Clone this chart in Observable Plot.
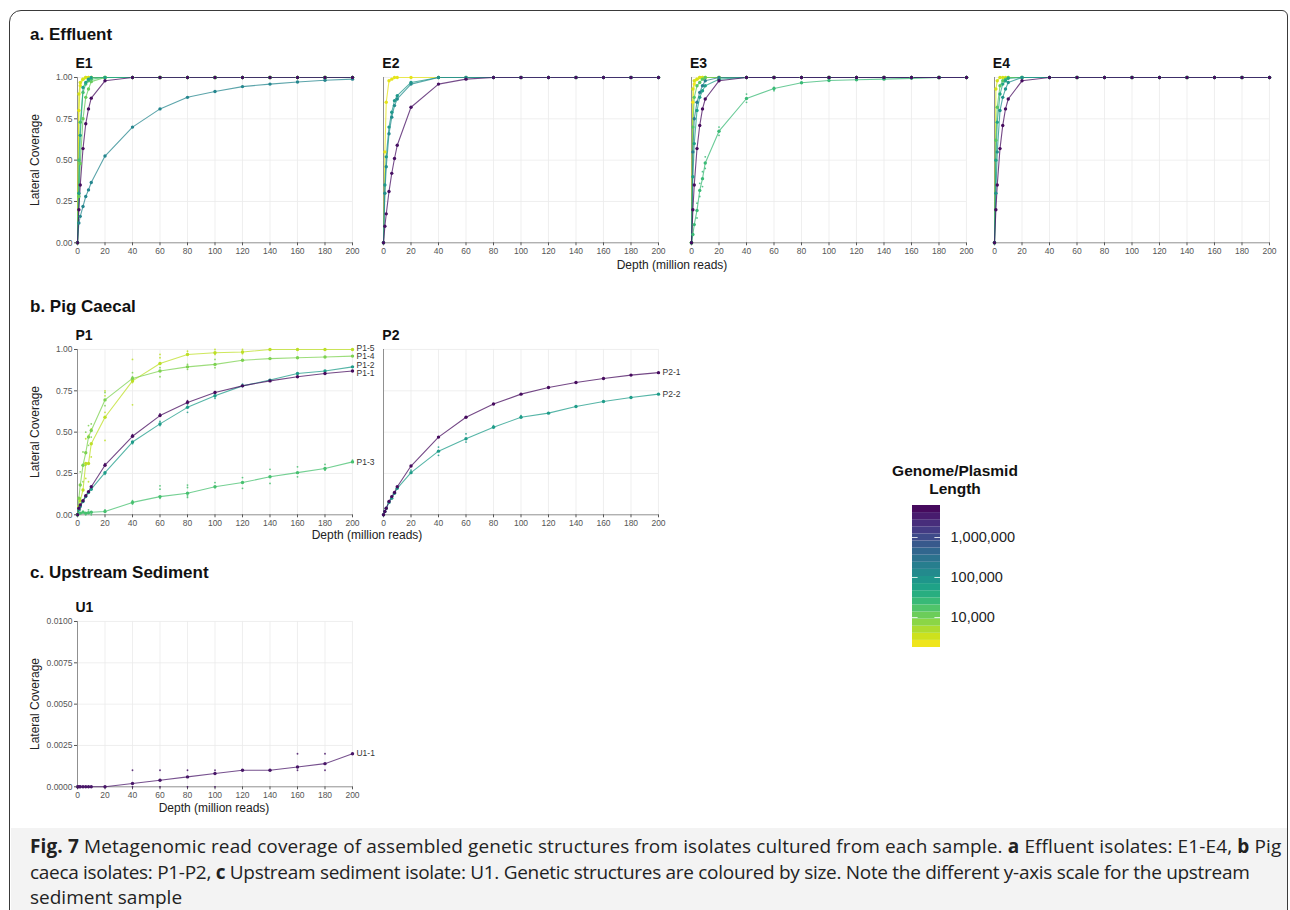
<!DOCTYPE html>
<html><head><meta charset="utf-8">
<script src="https://cdn.jsdelivr.net/npm/d3@7"></script>
<script src="https://cdn.jsdelivr.net/npm/@observablehq/plot@0.6"></script>
<style>
body{margin:0;width:1290px;height:910px;position:relative;overflow:hidden;background:#fff;font-family:"Liberation Sans",Arial,Helvetica,sans-serif;color:#111;}
.abs{position:absolute;}
.abs svg{max-width:none !important;}
.sec{font-weight:bold;font-size:17px;line-height:20px;white-space:nowrap;}
.ptitle{font-weight:bold;font-size:14px;line-height:16px;}
.axt{font-size:12px;line-height:14px;color:#222;white-space:nowrap;transform:translateX(-50%);}
.yt{font-size:12px;line-height:14px;color:#222;white-space:nowrap;transform:translate(-50%,-50%) rotate(-90deg);}
#frame{left:9px;top:10px;width:1277px;height:940px;border:1.5px solid #3a3a3a;border-radius:12px 6px 0 0;}
#capbg{left:10.5px;top:828px;width:1276px;height:90px;background:#f3f3f3;}
#cap{left:30px;top:834px;font-family:"Open Sans",sans-serif;font-size:19px;line-height:25.5px;color:#222;white-space:nowrap;}
#cap span{display:block;}
#legtitle{left:955px;top:462px;transform:translateX(-50%);text-align:center;font-weight:bold;font-size:15.5px;line-height:18px;white-space:nowrap;}
</style></head><body>
<div id="frame" class="abs"></div>
<div id="capbg" class="abs"></div>
<div id="cap" class="abs"><span style="letter-spacing:0.12px"><b>Fig. 7</b> Metagenomic read coverage of assembled genetic structures from isolates cultured from each sample. <b>a</b> Effluent isolates: E1-E4, <b>b</b> Pig</span><span style="letter-spacing:-0.3px">caeca isolates: P1-P2, <b>c</b> Upstream sediment isolate: U1. Genetic structures are coloured by size. Note the different y-axis scale for the upstream</span><span>sediment sample</span></div>
<div class="abs sec" style="left:30px;top:25px">a. Effluent</div>
<div class="abs sec" style="left:30px;top:297px">b. Pig Caecal</div>
<div class="abs sec" style="left:30px;top:563px">c. Upstream Sediment</div>
<div class="abs axt" style="left:672px;top:258px">Depth (million reads)</div>
<div class="abs axt" style="left:367px;top:528px">Depth (million reads)</div>
<div class="abs axt" style="left:214px;top:801px">Depth (million reads)</div>
<div class="abs yt" style="left:35px;top:160px">Lateral Coverage</div>
<div class="abs yt" style="left:35px;top:432px">Lateral Coverage</div>
<div class="abs yt" style="left:35px;top:704px">Lateral Coverage</div>
<div id="legtitle" class="abs">Genome/Plasmid<br>Length</div>
<script>
// ---------- data ----------
const depths = [0,1,2,4,6,8,10,20,40,60,80,100,120,140,160,180,200];
const xTicks = [0,20,40,60,80,100,120,140,160,180,200];
const yTicksAB = [0,0.25,0.5,0.75,1];
const yTicksC = [0,0.0025,0.005,0.0075,0.01];
const legendTicks = [10000,100000,1000000];

const E1_len = [5000000,150000,60000,20000,12000,3000,2500];
const E1_cov = [
 [0,0.20,0.35,0.57,0.72,0.81,0.875,0.98,1,1,1,1,1,1,1,1,1],
 [0,0.12,0.16,0.22,0.28,0.32,0.365,0.525,0.70,0.81,0.88,0.915,0.945,0.96,0.973,0.983,0.99],
 [0,0.30,0.65,0.94,0.97,0.99,1,1,1,1,1,1,1,1,1,1,1],
 [0,0.50,0.73,0.91,0.96,0.98,0.99,1,1,1,1,1,1,1,1,1,1],
 [0,0.28,0.48,0.75,0.88,0.93,0.975,1,1,1,1,1,1,1,1,1,1],
 [0,0.90,0.97,0.99,1,1,1,1,1,1,1,1,1,1,1,1,1],
 [0,0.80,0.95,0.99,1,1,1,1,1,1,1,1,1,1,1,1,1]
];
const E2_len = [4500000,80000,120000,2500];
const E2_cov = [
 [0,0.10,0.175,0.31,0.42,0.51,0.59,0.82,0.96,0.99,1,1,1,1,1,1,1],
 [0,0.35,0.52,0.70,0.79,0.86,0.89,0.97,1,1,1,1,1,1,1,1,1],
 [0,0.30,0.46,0.66,0.76,0.83,0.87,0.96,1,1,1,1,1,1,1,1,1],
 [0,0.55,0.85,0.98,0.99,1,1,1,1,1,1,1,1,1,1,1,1]
];
const E3_len = [5000000,25000,200000,60000,15000,3000,2000];
const E3_cov = [
 [0,0.20,0.35,0.57,0.71,0.81,0.87,0.98,1,1,1,1,1,1,1,1,1],
 [0,0.05,0.11,0.196,0.317,0.388,0.483,0.675,0.873,0.933,0.968,0.982,0.986,0.99,0.995,1,1],
 [0,0.55,0.75,0.85,0.91,0.95,0.98,1,1,1,1,1,1,1,1,1,1],
 [0,0.40,0.60,0.80,0.88,0.92,0.95,0.99,1,1,1,1,1,1,1,1,1],
 [0,0.70,0.88,0.95,0.97,0.99,1,1,1,1,1,1,1,1,1,1,1],
 [0,0.93,0.98,0.99,1,1,1,1,1,1,1,1,1,1,1,1,1],
 [0,0.85,0.96,0.99,1,1,1,1,1,1,1,1,1,1,1,1,1]
];
const E3_reps = [[4,0.15],[4,0.24],[6,0.28],[6,0.36],[8,0.34],[8,0.43],[10,0.45],[10,0.52],[20,0.70],[20,0.65],[40,0.90],[40,0.85],[60,0.94],[60,0.92]];
const E4_len = [5000000,100000,50000,15000,3000];
const E4_cov = [
 [0,0.20,0.35,0.57,0.71,0.81,0.87,0.98,1,1,1,1,1,1,1,1,1],
 [0,0.30,0.55,0.80,0.88,0.93,0.97,1,1,1,1,1,1,1,1,1,1],
 [0,0.50,0.73,0.90,0.96,0.98,0.995,1,1,1,1,1,1,1,1,1,1],
 [0,0.62,0.82,0.95,0.98,0.99,1,1,1,1,1,1,1,1,1,1,1],
 [0,0.93,0.98,1,1,1,1,1,1,1,1,1,1,1,1,1,1]
];
const P1_names = ["P1-1","P1-2","P1-3","P1-4","P1-5"];
const P1_len = [5000000,70000,20000,9000,4000];
const P1_cov = [
 [0,0.04,0.06,0.085,0.115,0.14,0.17,0.30,0.475,0.60,0.68,0.74,0.78,0.81,0.835,0.855,0.87],
 [0,0.03,0.05,0.08,0.11,0.135,0.155,0.255,0.44,0.55,0.65,0.72,0.78,0.815,0.855,0.87,0.895],
 [0,0.01,0.01,0.015,0.01,0.012,0.015,0.02,0.075,0.11,0.13,0.17,0.195,0.23,0.255,0.28,0.32],
 [0,0.10,0.18,0.30,0.375,0.47,0.51,0.695,0.825,0.87,0.895,0.91,0.935,0.945,0.95,0.955,0.96],
 [0,0.05,0.085,0.15,0.31,0.31,0.43,0.59,0.81,0.915,0.97,0.98,0.985,1,1,1,1]
];
const P1_1_reps = [[20,0.31],[40,0.485],[60,0.61],[80,0.69],[100,0.745]];
const P1_2_reps = [[20,0.245],[40,0.43],[60,0.565],[60,0.54],[80,0.62],[80,0.665],[100,0.705],[120,0.79]];
const P1_3_reps = [[2,0.03],[4,0.02],[6,0.0],[8,0.03],[10,0.0],[20,0.03],[40,0.085],[40,0.065],[60,0.155],[60,0.175],[60,0.10],[80,0.18],[80,0.165],[80,0.115],[80,0.105],[100,0.195],[100,0.165],[120,0.225],[120,0.16],[140,0.275],[140,0.19],[160,0.29],[160,0.23],[180,0.305],[180,0.27],[200,0.33]];
const P1_4_reps = [[2,0.26],[2,0.10],[4,0.38],[4,0.20],[6,0.50],[6,0.30],[8,0.54],[8,0.42],[10,0.55],[10,0.47],[20,0.74],[20,0.66],[40,0.86],[40,0.835],[60,0.835],[60,0.89],[80,0.91],[80,0.88],[100,0.94],[100,0.89]];
const P1_5_reps = [[4,0.30],[4,0.08],[6,0.46],[6,0.22],[8,0.48],[8,0.20],[10,0.52],[10,0.35],[20,0.75],[20,0.72],[20,0.62],[20,0.45],[40,0.94],[40,0.80],[40,0.665],[60,0.97],[60,0.95],[60,0.87],[80,0.99],[80,0.975],[100,1.0],[100,0.97],[120,1.0],[120,0.975]];
const P2_names = ["P2-1","P2-2"];
const P2_len = [5000000,70000];
const P2_cov = [
 [0,0.02,0.04,0.08,0.11,0.135,0.17,0.295,0.47,0.59,0.67,0.73,0.77,0.80,0.825,0.845,0.86],
 [0,0.02,0.04,0.075,0.10,0.13,0.16,0.255,0.385,0.46,0.53,0.59,0.615,0.655,0.685,0.71,0.73]
];
const P2_2_reps = [[20,0.27],[40,0.41],[40,0.36],[60,0.49],[60,0.44],[80,0.54],[100,0.60]];
const U1_names = ["U1-1"];
const U1_len = [4000000];
const U1_cov = [[0,0,0,0,0,0,0,0,0.0002,0.0004,0.0006,0.0008,0.001,0.001,0.0012,0.0014,0.002]];
const U1_reps = [[40,0.001],[40,0],[60,0.001],[60,0],[80,0.001],[80,0],[100,0.001],[100,0],[120,0.001],[140,0.001],[160,0.002],[160,0.001],[180,0.002],[180,0.001],[200,0.002]];

// ---------- styling ----------
const colorScale = {type:"log", scheme:"viridis", reverse:true, domain:[1778, 6310000]};
const PW = 275, PH = 165.3, ML = 30, MR = 40, MT = 10, MB = 20;
const fmt2 = d3.format(".2f"), fmt4 = d3.format(".4f");

function makePanel(cfg){
  const rows = [];
  cfg.cov.forEach((vals,i)=>vals.forEach((v,j)=>rows.push({series:i, name: cfg.names ? cfg.names[i] : "s"+i, len: cfg.len[i], depth: depths[j], value: v})));
  const order = cfg.len.map((l,i)=>i).sort((a,b)=>cfg.len[a]-cfg.len[b]);
  const sorted = order.flatMap(i => rows.filter(r=>r.series===i));
  const reps = [];
  (cfg.reps||[]).forEach(([i,pts])=>pts.forEach(([d,v])=>reps.push({len: cfg.len[i], depth:d, value:v})));
  const ydom = [cfg.yTicks[0], cfg.yTicks[cfg.yTicks.length-1]];
  const marks = [
    Plot.gridX(xTicks.slice(1), {stroke:"#ebebeb", strokeOpacity:1, strokeWidth:0.8}),
    Plot.gridY(cfg.yTicks.slice(1), {stroke:"#ebebeb", strokeOpacity:1, strokeWidth:0.8}),
    Plot.ruleX([0], {stroke:"#909090", strokeWidth:1}),
    Plot.ruleY([ydom[0]], {stroke:"#909090", strokeWidth:1}),
    Plot.axisX(xTicks, {tickSize:3, tickPadding:2, fontSize:8.5, color:"#555", label:null}),
    Plot.dot(reps, {x:"depth", y:"value", r:0.9, fill:"len", fillOpacity:0.85}),
    Plot.line(sorted, {x:"depth", y:"value", z:"series", stroke:"len", strokeWidth:1.1, strokeOpacity:0.75}),
    Plot.dot(sorted, {x:"depth", y:"value", r:1.7, fill:"len"})
  ];
  if (cfg.showY) marks.push(Plot.axisY(cfg.yTicks, {tickSize:3, tickPadding:2, fontSize:8.5, color:"#555", label:null, tickFormat: cfg.yFormat}));
  if (cfg.names){
    const gap = 8.6 / PH * (ydom[1]-ydom[0]);
    const labs = cfg.names.map((n,i)=>({name:n, len:cfg.len[i], v: cfg.cov[i][cfg.cov[i].length-1]})).sort((a,b)=>b.v-a.v);
    labs.forEach(l=>l.p=l.v);
    for (let it=0; it<200; it++){
      for (let k=0;k<labs.length-1;k++){
        const d = labs[k].p - labs[k+1].p;
        if (d < gap){ const s=(gap-d)/2; labs[k].p+=s; labs[k+1].p-=s; }
      }
    }
    marks.push(Plot.text(labs, {x: 200, y:"p", text:"name", dx:4, textAnchor:"start", fontSize:8.5, fill:"#333"}));
  }
  const W = ML+PW+MR, H = MT+PH+MB;
  const svg = Plot.plot({
    width: W, height: H,
    marginLeft: ML, marginRight: MR, marginTop: MT, marginBottom: MB,
    x: {domain:[0,200], label:null},
    y: {domain: ydom, label:null, axis: cfg.showY ? undefined : null},
    color: colorScale,
    style: {background:"transparent", overflow:"visible", maxWidth:"none", fontFamily:"'Liberation Sans', Arial, sans-serif"},
    marks
  });
  const wrap = document.createElement("div");
  wrap.className = "abs";
  wrap.style.left = (cfg.left - ML) + "px";
  wrap.style.top = (cfg.top - MT) + "px";
  wrap.style.width = W + "px";
  wrap.style.height = H + "px";
  wrap.appendChild(svg);
  document.body.appendChild(wrap);
  const t = document.createElement("div");
  t.className = "abs ptitle";
  t.textContent = cfg.title;
  t.style.left = (cfg.left - 1) + "px";
  t.style.top = (cfg.top - 22) + "px";
  document.body.appendChild(t);
}

const topA = 77, topB = 348.7, topC = 621;
makePanel({title:"E1", left:76.5, top:topA, cov:E1_cov, len:E1_len, yTicks:yTicksAB, yFormat:fmt2, showY:true});
makePanel({title:"E2", left:383.3, top:topA, cov:E2_cov, len:E2_len, yTicks:yTicksAB, yFormat:fmt2, showY:false});
makePanel({title:"E3", left:691, top:topA, cov:E3_cov, len:E3_len, yTicks:yTicksAB, yFormat:fmt2, showY:false, reps:[[1,E3_reps]]});
makePanel({title:"E4", left:993.8, top:topA, cov:E4_cov, len:E4_len, yTicks:yTicksAB, yFormat:fmt2, showY:false});
makePanel({title:"P1", left:76.5, top:topB, cov:P1_cov, len:P1_len, names:P1_names, yTicks:yTicksAB, yFormat:fmt2, showY:true,
  reps:[[0,P1_1_reps],[1,P1_2_reps],[2,P1_3_reps],[3,P1_4_reps],[4,P1_5_reps]]});
makePanel({title:"P2", left:383.3, top:topB, cov:P2_cov, len:P2_len, names:P2_names, yTicks:yTicksAB, yFormat:fmt2, showY:false, reps:[[1,P2_2_reps]]});
makePanel({title:"U1", left:76.5, top:topC, cov:U1_cov, len:U1_len, names:U1_names, yTicks:yTicksC, yFormat:fmt4, showY:true, reps:[[0,U1_reps]]});

// ---------- legend (vertical colour bar) ----------
const lo = Math.log10(1778), hi = Math.log10(6310000), nb = 20;
const bins = d3.range(nb).map(i=>({lo:10**(lo+i*(hi-lo)/nb), hi:10**(lo+(i+1)*(hi-lo)/nb), mid:10**(lo+(i+0.5)*(hi-lo)/nb)}));
const leg = Plot.plot({
  width: 140, height: 142, marginLeft:0, marginRight:112, marginTop:0, marginBottom:0,
  x: {domain:[0,1], axis:null},
  y: {type:"log", domain:[1778,6310000], axis:null},
  color: colorScale,
  style: {background:"transparent", overflow:"visible", maxWidth:"none", fontFamily:"'Liberation Sans', Arial, sans-serif"},
  marks: [
    Plot.rect(bins, {x1:0, x2:1, y1:"lo", y2:"hi", fill:"mid"}),
    Plot.ruleY(legendTicks, {x1:0, x2:0.2, stroke:"white", strokeOpacity:0.8}),
    Plot.ruleY(legendTicks, {x1:0.8, x2:1, stroke:"white", strokeOpacity:0.8}),
    Plot.text(legendTicks, {x:1, y:d=>d, dx:10, text:d=>d3.format(",")(d), textAnchor:"start", fontSize:14.5, fill:"#222"})
  ]
});
const lw = document.createElement("div");
lw.className = "abs"; lw.style.left = "912px"; lw.style.top = "505px";
lw.appendChild(leg);
document.body.appendChild(lw);
</script>
</body></html>
